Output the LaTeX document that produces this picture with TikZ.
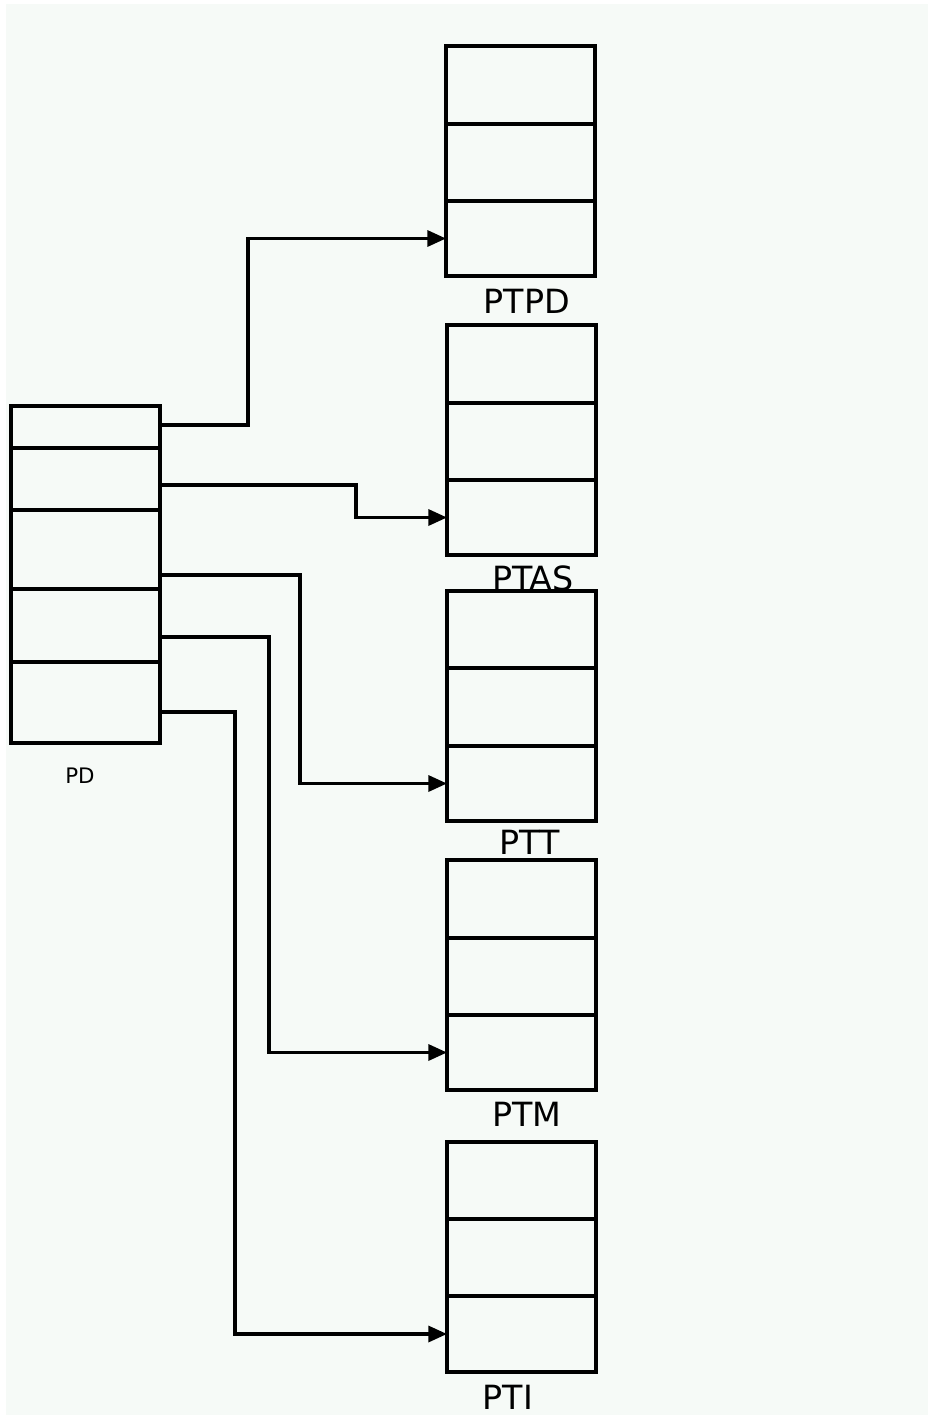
\documentclass[tikz,border=0pt]{standalone}
\usepackage{fontspec}
\setmainfont{DejaVu Sans}
\usetikzlibrary{fit,arrows.meta}
\definecolor{bgcol}{RGB}{246,250,247}
\tikzset{
  cell/.style={draw=black, line width=2.5pt, inner sep=0pt, outer sep=0pt, fill=none},
  conn/.style={draw=black, line width=2.5pt, -{Triangle[length=14pt,width=12pt]}},
  biglabel/.style={anchor=base, inner sep=0pt, font=\fontsize{25}{29}\selectfont},
  smalllabel/.style={anchor=base, inner sep=0pt, font=\fontsize{16}{19}\selectfont},
}
\newcommand{\ptable}[9]{%
  \node[cell, fit={(#2,#4) (#3,#5)}] (#1a) {};
  \node[cell, fit={(#2,#5) (#3,#6)}] (#1b) {};
  \node[cell, fit={(#2,#6) (#3,#7)}] (#1c) {};
  \node[biglabel] (#1lab) at (#8,#9) {\MakeUppercase{#1}};
}
\begin{document}
\begin{tikzpicture}[x=0.75pt,y=-0.75pt]
\useasboundingbox (0,0) rectangle (930,1417);
\fill[white] (0,0) rectangle (930,1417);
\fill[bgcol] (6,4) rectangle (928,1415);
% PD table
\node[cell, fit={(11,406) (160,448)}] (pd1) {};
\node[cell, fit={(11,448) (160,510)}] (pd2) {};
\node[cell, fit={(11,510) (160,589)}] (pd3) {};
\node[cell, fit={(11,589) (160,662)}] (pd4) {};
\node[cell, fit={(11,662) (160,743)}] (pd5) {};
\node[smalllabel] (pdlab) at (80,783) {PD};
% page tables
\ptable{ptpd}{446}{595}{46}{124}{201}{276}{527}{313}
\ptable{ptas}{447}{596}{325}{403}{480}{555}{533}{590}
\ptable{ptt}{447}{596}{591}{668}{746}{821}{530}{854}
\ptable{ptm}{447}{596}{860}{938}{1015}{1090}{527}{1126}
\ptable{pti}{447}{596}{1142}{1219}{1296}{1372}{508}{1409}
% connector start points and bend columns
\coordinate (s1) at (160,425);
\coordinate (s2) at (160,485);
\coordinate (s3) at (160,575);
\coordinate (s4) at (160,637);
\coordinate (s5) at (160,712);
\coordinate (b1) at (248,0);
\coordinate (b2) at (356,0);
\coordinate (b3) at (300,0);
\coordinate (b4) at (269,0);
\coordinate (b5) at (235,0);
\draw[conn] (s1) -- (s1 -| b1) |- (ptpdc.west);
\draw[conn] (s2) -- (s2 -| b2) |- (ptasc.west);
\draw[conn] (s3) -- (s3 -| b3) |- (pttc.west);
\draw[conn] (s4) -- (s4 -| b4) |- (ptmc.west);
\draw[conn] (s5) -- (s5 -| b5) |- (ptic.west);
\end{tikzpicture}
\end{document}
